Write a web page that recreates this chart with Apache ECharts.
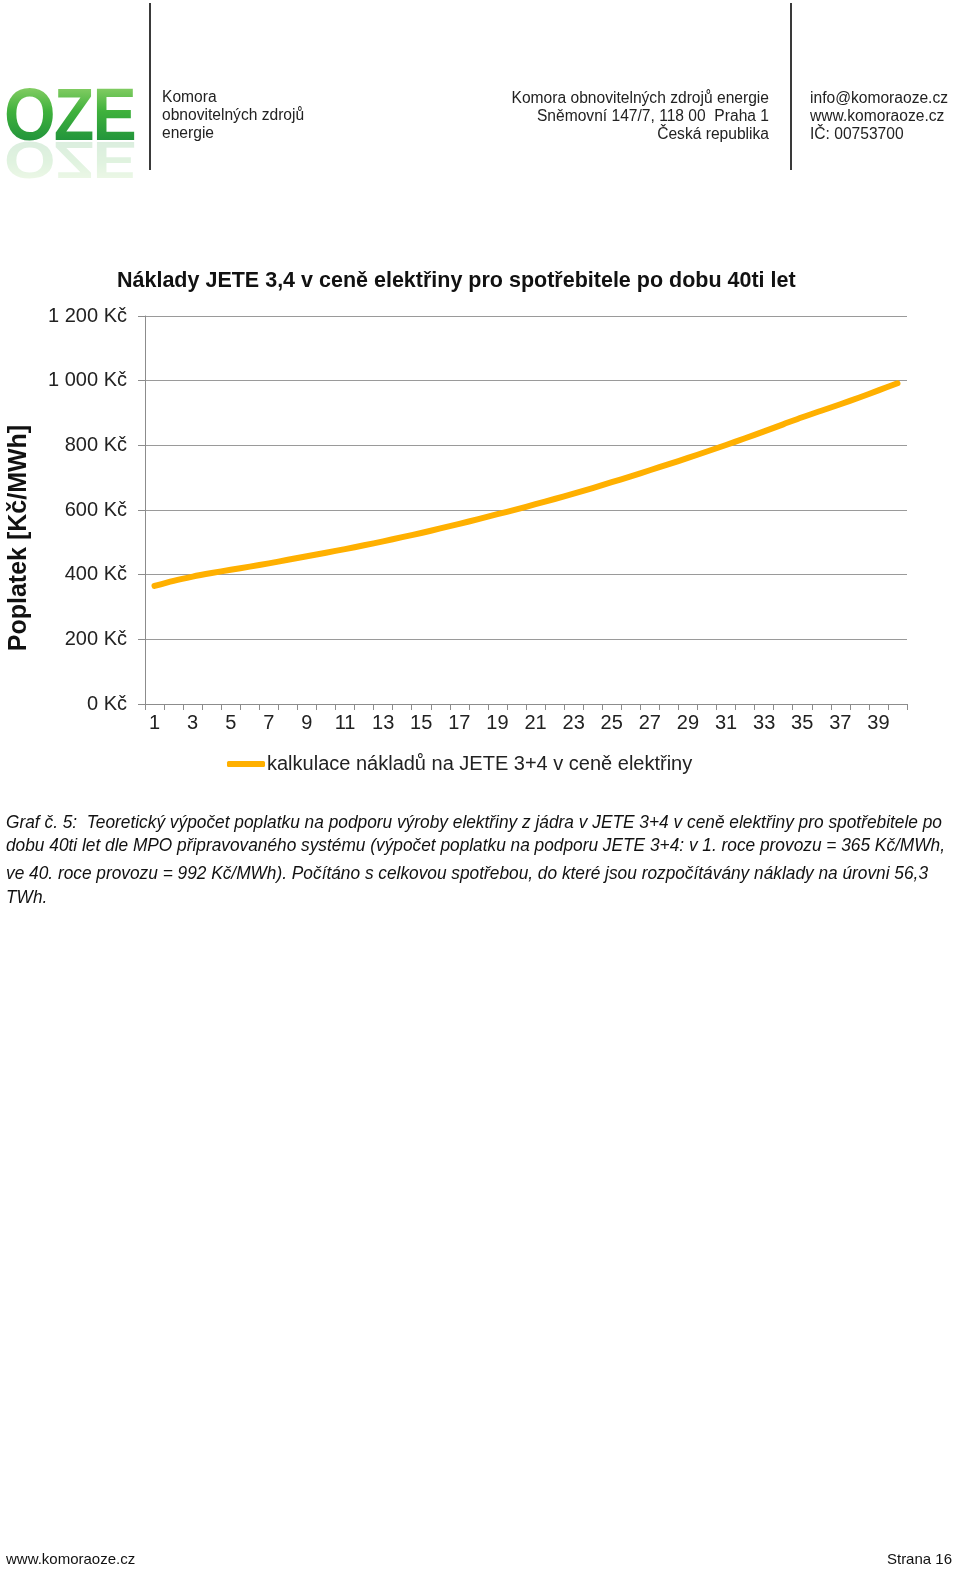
<!DOCTYPE html>
<html>
<head>
<meta charset="utf-8">
<script src="https://cdn.jsdelivr.net/npm/echarts@6/dist/echarts.min.js"></script>
<style>
    html, body {margin: 0; padding: 0; background: #fff;}
    body {width: 960px; height: 1578px; position: relative; overflow: hidden;
        font-family: "Liberation Sans", Arial, sans-serif; color: #222;}
    #chart {position: absolute; left: 0; top: 0; width: 960px; height: 1578px;}
    .abs {position: absolute; white-space: nowrap;}
    .vline {position: absolute; top: 3px; height: 167px; width: 1.5px; background: #3a3a3a;}
    .head {font-size: 15.6px; line-height: 18px;}
    .logo {position: absolute; left: 4px; top: 78px; font-weight: bold; font-size: 74px; line-height: 74px;
        letter-spacing: -2px; transform-origin: 0 0;
        background: linear-gradient(#9fd873, #3fb13c 45%, #178a3b);
        -webkit-background-clip: text; background-clip: text; color: transparent;}
    .logo.refl {top: 185px; opacity: 0.16;}
    .cap {font-style: italic; font-size: 19px; line-height: 20px; color: #111; transform-origin: 0 50%;}
    .foot {font-size: 15px; color: #111;}
</style>
</head>
<body>
<div id="chart"></div>

<!-- header -->
<div class="logo" id="logo">OZE</div>
<div class="logo refl" id="logoRefl">OZE</div>
<div class="vline" style="left:149px"></div>
<div class="vline" style="left:790px"></div>
<div class="abs head" style="left:162px; top:88px;">Komora<br>obnovitelných zdrojů<br>energie</div>
<div class="abs head" style="right:191px; top:89px; text-align:right;">Komora obnovitelných zdrojů energie<br>Sněmovní 147/7, 118 00&nbsp; Praha 1<br>Česká republika</div>
<div class="abs head" style="left:810px; top:89px;">info@komoraoze.cz<br>www.komoraoze.cz<br>IČ: 00753700</div>

<!-- caption -->
<div class="abs cap" data-w="936" style="left:6px; top:812px;">Graf č. 5:&nbsp; Teoretický výpočet poplatku na podporu výroby elektřiny z jádra v JETE 3+4 v ceně elektřiny pro spotřebitele po</div>
<div class="abs cap" data-w="939" style="left:6px; top:835px;">dobu 40ti let dle MPO připravovaného systému (výpočet poplatku na podporu JETE 3+4: v 1. roce provozu = 365 Kč/MWh,</div>
<div class="abs cap" data-w="922" style="left:6px; top:863px;">ve 40. roce provozu = 992 Kč/MWh). Počítáno s celkovou spotřebou, do které jsou rozpočítávány náklady na úrovni 56,3</div>
<div class="abs cap" style="left:6px; top:887px;">TWh.</div>

<!-- footer -->
<div class="abs foot" style="left:6px; top:1550px;">www.komoraoze.cz</div>
<div class="abs foot" style="right:8px; top:1550px;">Strana 16</div>

<script>
// roky provozu
var years = ['1', '2', '3', '4', '5', '6', '7', '8', '9', '10',
    '11', '12', '13', '14', '15', '16', '17', '18', '19', '20',
    '21', '22', '23', '24', '25', '26', '27', '28', '29', '30',
    '31', '32', '33', '34', '35', '36', '37', '38', '39', '40'];
// poplatek Kč/MWh
var fee = [365, 381, 394, 405, 415, 425, 435, 446, 457, 468,
    479, 491, 503, 516, 529, 543, 557, 572, 587, 602,
    618, 634, 651, 668, 686, 704, 723, 742, 761, 781,
    801, 822, 843, 865, 887, 907, 927, 948, 970, 992];
var yTicks = [0, 200, 400, 600, 800, 1000, 1200];

var seriesName = 'kalkulace nákladů na JETE 3+4 v ceně elektřiny';
var titleText = 'Náklady JETE 3,4 v ceně elektřiny pro spotřebitele po dobu 40ti let';
var yName = 'Poplatek [Kč/MWh]';

var font = '"Liberation Sans", Arial, sans-serif';

function kc(v) {
    var s = String(v);
    if (v >= 1000) {
        s = s.slice(0, s.length - 3) + ' ' + s.slice(-3);
    }
    return s + ' Kč';
}

var chart = echarts.init(document.getElementById('chart'), null, {renderer: 'canvas'});
chart.setOption({
    animation: false,
    backgroundColor: 'transparent',
    title: {
        text: titleText,
        left: 112,
        top: 265,
        textStyle: {fontFamily: font, fontSize: 21.5, fontWeight: 'bold', color: '#111'}
    },
    legend: {
        left: 222,
        top: 749,
        icon: 'roundRect',
        itemWidth: 38,
        itemHeight: 6,
        itemGap: 4,
        textStyle: {fontFamily: font, fontSize: 20, color: '#222', padding: [0, 0, 0, -3]},
        data: [seriesName]
    },
    grid: {left: 145, right: 53, top: 316, bottom: 874, containLabel: false},
    xAxis: {
        type: 'category',
        data: years,
        boundaryGap: true,
        axisLine: {lineStyle: {color: '#8c8c8c', width: 1}},
        axisTick: {show: true, length: 6, interval: 0, lineStyle: {color: '#8c8c8c'}},
        axisLabel: {interval: 1, margin: 9, fontFamily: font, fontSize: 20, color: '#222'}
    },
    yAxis: {
        type: 'value',
        min: yTicks[0],
        max: yTicks[yTicks.length - 1],
        interval: 200,
        axisLine: {show: true, lineStyle: {color: '#8c8c8c', width: 1}},
        axisTick: {show: true, length: 7, lineStyle: {color: '#8c8c8c'}},
        splitLine: {lineStyle: {color: '#9a9a9a', width: 1}},
        axisLabel: {margin: 18, fontFamily: font, fontSize: 20, color: '#222', formatter: kc}
    },
    graphic: [{
        type: 'text',
        x: 19,
        y: 538,
        rotation: Math.PI / 2,
        style: {
            text: yName,
            fontFamily: font,
            fontSize: 25,
            fontWeight: 'bold',
            fill: '#111',
            align: 'center',
            verticalAlign: 'middle'
        }
    }],
    series: [{
        name: seriesName,
        type: 'line',
        data: fee,
        showSymbol: false,
        symbol: 'none',
        smooth: 0.3,
        itemStyle: {color: '#FFB000'},
        lineStyle: {color: '#FFB000', width: 6, cap: 'round', join: 'round'}
    }]
});

// šířka popisku podle předlohy
var caps = document.querySelectorAll('.cap');
var lastScale = 1;
caps.forEach(function (el) {
    var w = el.getAttribute('data-w');
    var s = w ? w / el.getBoundingClientRect().width : lastScale;
    lastScale = s;
    el.style.transform = 'scaleX(' + s + ')';
});
// logo + odraz
['logo', 'logoRefl'].forEach(function (id) {
    var el = document.getElementById(id);
    var s = 131 / el.getBoundingClientRect().width;
    el.style.transform = id === 'logo' ? 'scaleX(' + s + ')' : 'scale(' + s + ', -0.7)';
});
</script>
</body>
</html>
